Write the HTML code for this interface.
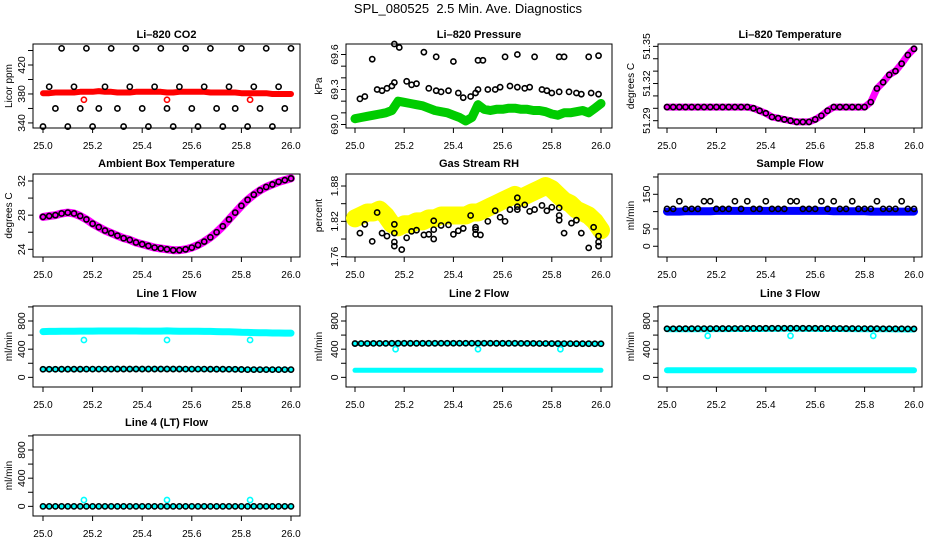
<!DOCTYPE html>
<html><head><meta charset="utf-8">
<style>
html,body{margin:0;padding:0;background:#fff;}
svg{display:block;font-family:"Liberation Sans",Arial,sans-serif;}
</style></head>
<body>
<svg id="c" width="936" height="540" viewBox="0 0 936 540">
<text x="468" y="13" text-anchor="middle" font-size="13">SPL_080525&#160; 2.5 Min. Ave. Diagnostics</text>
</svg>
<script>
// ---- shared time axis (fractional day) ----
const times=[25.000,25.025,25.050,25.075,25.100,25.125,25.150,25.175,25.200,25.225,25.250,25.275,25.300,25.325,25.350,25.375,25.400,25.425,25.450,25.475,25.500,25.525,25.550,25.575,25.600,25.625,25.650,25.675,25.700,25.725,25.750,25.775,25.800,25.825,25.850,25.875,25.900,25.925,25.950,25.975,26.000];
const xTicks=[25.0,25.2,25.4,25.6,25.8,26.0];
const xTickLabels=["25.0","25.2","25.4","25.6","25.8","26.0"];
// ---- Li-820 CO2 ----
const co2Red=[381,381,382,382,382,382,383,383,383,384,383,383,382,382,382,383,383,383,383,383,382,382,383,383,383,383,383,382,382,382,382,382,381,381,381,381,381,380,380,380,380];
const co2Black=[335,390,360,443,335,390,360,443,335,360,390,443,360,335,390,443,360,335,390,443,360,335,390,443,360,335,390,443,360,335,390,360,443,335,390,360,443,335,390,360,443];
const co2RedOutT=[25.165,25.5,25.835];
const co2RedOutV=[372,372,372];
// ---- Li-820 Pressure ----
const presGreen=[69.05,69.06,69.07,69.08,69.09,69.10,69.12,69.20,69.19,69.18,69.17,69.16,69.14,69.12,69.11,69.10,69.08,69.06,69.03,69.06,69.17,69.13,69.12,69.13,69.13,69.14,69.14,69.13,69.13,69.12,69.12,69.11,69.09,69.08,69.10,69.10,69.11,69.12,69.10,69.14,69.18];
const presMidT=[25.02,25.04,25.09,25.11,25.13,25.15,25.16,25.21,25.23,25.25,25.30,25.33,25.35,25.38,25.42,25.44,25.47,25.49,25.50,25.54,25.57,25.59,25.63,25.66,25.69,25.71,25.76,25.78,25.80,25.83,25.87,25.90,25.92,25.96,25.99];
const presMidV=[69.22,69.24,69.30,69.29,69.31,69.33,69.36,69.37,69.34,69.35,69.31,69.29,69.28,69.29,69.27,69.23,69.24,69.27,69.30,69.30,69.30,69.32,69.33,69.32,69.31,69.32,69.30,69.29,69.27,69.28,69.28,69.27,69.26,69.27,69.26];
const presUpT=[25.07,25.16,25.18,25.28,25.33,25.40,25.50,25.52,25.61,25.66,25.73,25.83,25.85,25.95,25.99];
const presUpV=[69.56,69.69,69.66,69.62,69.58,69.54,69.55,69.55,69.58,69.60,69.58,69.58,69.58,69.58,69.59];
// ---- Li-820 Temperature ----
const licTemp=[51.301,51.301,51.301,51.301,51.301,51.301,51.301,51.301,51.301,51.301,51.301,51.301,51.301,51.301,51.300,51.298,51.296,51.293,51.292,51.291,51.290,51.289,51.289,51.289,51.291,51.294,51.298,51.301,51.301,51.301,51.301,51.301,51.301,51.305,51.316,51.321,51.327,51.330,51.336,51.343,51.348];
// ---- Ambient box temperature ----
const ambTemp=[27.8,27.9,28.0,28.2,28.3,28.2,27.9,27.5,27.0,26.6,26.2,25.9,25.6,25.3,25.1,24.8,24.6,24.4,24.2,24.1,24.0,23.9,23.9,24.0,24.2,24.5,24.9,25.4,26.0,26.7,27.5,28.3,29.1,29.8,30.4,30.9,31.3,31.6,31.9,32.1,32.3];
// ---- Gas stream RH ----
const rhYellow=[1.825,1.83,1.835,1.835,1.84,1.83,1.815,1.81,1.815,1.815,1.82,1.82,1.825,1.825,1.83,1.83,1.83,1.83,1.83,1.835,1.835,1.84,1.845,1.85,1.855,1.86,1.865,1.86,1.865,1.87,1.875,1.88,1.875,1.865,1.855,1.85,1.84,1.835,1.83,1.82,1.805];
const rhBlackT=[25.02,25.04,25.07,25.09,25.11,25.13,25.16,25.16,25.16,25.16,25.19,25.21,25.23,25.25,25.28,25.30,25.32,25.32,25.32,25.35,25.38,25.40,25.42,25.44,25.47,25.49,25.49,25.49,25.51,25.54,25.57,25.59,25.61,25.63,25.66,25.66,25.66,25.69,25.71,25.73,25.76,25.78,25.80,25.83,25.83,25.83,25.85,25.88,25.90,25.92,25.95,25.97,25.99,25.99,25.99];
const rhBlackV=[1.800,1.815,1.786,1.835,1.800,1.795,1.815,1.800,1.785,1.778,1.772,1.792,1.803,1.805,1.797,1.798,1.821,1.806,1.790,1.813,1.814,1.798,1.804,1.808,1.830,1.810,1.806,1.798,1.797,1.820,1.838,1.827,1.820,1.840,1.860,1.845,1.840,1.848,1.837,1.840,1.847,1.838,1.844,1.843,1.830,1.822,1.800,1.817,1.822,1.800,1.775,1.810,1.795,1.785,1.778];
// ---- Sample flow ----
const sampBlue=[100,100,100,101,101,101,101,101,102,102,102,102,102,102,102,102,102,102,102,102,102,102,102,102,102,102,102,101,101,101,101,101,101,100,100,100,100,100,100,100,100];
const sampBlack=[108,108,130,108,108,108,130,130,108,108,108,130,108,130,108,108,130,108,108,108,130,130,108,108,108,130,108,130,108,108,130,108,108,108,130,108,108,108,130,108,108];
// ---- Line flows ----
const l1Cyan=[650,652,652,655,655,655,656,657,657,658,658,658,658,658,658,658,657,657,657,656,660,656,655,655,655,654,652,652,650,648,646,644,640,638,636,634,632,630,630,628,628];
const l1Black=[115,115,115,116,116,116,116,117,117,117,117,117,118,118,118,118,118,118,118,118,118,118,118,117,117,117,117,116,116,116,115,114,112,110,110,110,110,110,110,110,110];
const l2Black=[480,481,481,482,482,482,483,483,483,483,483,483,483,483,484,484,484,484,484,484,484,484,484,483,483,483,483,482,482,482,481,481,480,480,479,479,478,478,478,477,477];
const l2Low=[100,100,100,100,100,100,100,100,100,100,100,100,100,100,100,100,100,100,100,100,100,100,100,100,100,100,100,100,100,100,100,100,100,100,100,100,100,100,100,100,100];
const l3Black=[690,690,691,691,691,692,692,692,693,693,693,694,694,695,695,695,696,696,696,697,697,697,696,696,696,695,695,694,694,693,693,692,692,691,691,690,690,689,689,688,688];
const l4Black=[0,0,0,0,0,0,0,0,0,0,0,0,0,0,0,0,0,0,0,0,0,0,0,0,0,0,0,0,0,0,0,0,0,0,0,0,0,0,0,0,0];
const outT=[25.165,25.5,25.835];
const l1Out=[530,530,530];
const l2Out=[400,400,400];
const l3Out=[590,590,590];
const l4Out=[90,90,90];

const NS="http://www.w3.org/2000/svg";
const svg=document.getElementById('c');
function mk(tag,attrs,parent){const e=document.createElementNS(NS,tag);for(const k in attrs)e.setAttribute(k,attrs[k]);(parent||svg).appendChild(e);return e;}
const cols=[{bl:33,br:300,x0:43,x1:291,yl:12},{bl:346,br:612,x0:355,x1:601,yl:322},{bl:658,br:922,x0:667,x1:914,yl:634}];
const rows=[{bt:44,bb:128,ty:38},{bt:174,bb:257,ty:167},{bt:306,bb:387,ty:297},{bt:435,bb:516,ty:426}];

function panel(name,title,ylab,ci,ri,ymin,ymax,yTicks,yLabels){
  const c=cols[ci],r=rows[ri];
  const g=mk('g',{});
  
  
  const sx=v=>c.x0+(v-25)*(c.x1-c.x0);
  const sy=v=>r.bb-(v-ymin)/(ymax-ymin)*(r.bb-r.bt);
  const t=mk('text',{x:(c.bl+c.br)/2,y:r.ty,'text-anchor':'middle','font-size':11,'font-weight':'bold'},g);t.textContent=title;
  
  
  const b=mk('rect',{x:c.bl,y:r.bt,width:c.br-c.bl,height:r.bb-r.bt,fill:'none',stroke:'#000','stroke-width':1},g);
  
  
  const xa=mk('g',{},g);
  
  
  mk('line',{x1:sx(xTicks[0]),x2:sx(xTicks[xTicks.length-1]),y1:r.bb,y2:r.bb,stroke:'#000'},xa);
  xTicks.forEach((v,i)=>{mk('line',{x1:sx(v),x2:sx(v),y1:r.bb,y2:r.bb+5,stroke:'#000'},xa);
    const tl=mk('text',{x:sx(v),y:r.bb+21,'text-anchor':'middle','font-size':10},xa);tl.textContent=xTickLabels[i];});
  const ya=mk('g',{},g);
  
  
  mk('line',{x1:c.bl,x2:c.bl,y1:sy(yTicks[0]),y2:sy(yTicks[yTicks.length-1]),stroke:'#000'},ya);
  yTicks.forEach((v,i)=>{mk('line',{x1:c.bl-5,x2:c.bl,y1:sy(v),y2:sy(v),stroke:'#000'},ya);
    if(yLabels[i]){const tl=mk('text',{x:0,y:0,'text-anchor':'middle','font-size':10.5,transform:`translate(${c.bl-8},${sy(v)}) rotate(-90)`},ya);tl.textContent=yLabels[i];}});
  const yl=mk('text',{x:0,y:0,'text-anchor':'middle','font-size':10,transform:`translate(${c.yl},${(r.bt+r.bb)/2}) rotate(-90)`},g);yl.textContent=ylab;
  
  
  return {g,sx,sy};
}
function band(p,name,xs,ys,color,w){
  const pts=xs.map((x,i)=>p.sx(x).toFixed(1)+','+p.sy(ys[i]).toFixed(1)).join(' ');
  const e=mk('polyline',{points:pts,fill:'none',stroke:color,'stroke-width':w,'stroke-linejoin':'round','stroke-linecap':'round'},p.g);
  
  
}
function pts(p,name,xs,ys,color){
  const g=mk('g',{},p.g);
  
  
  xs.forEach((x,i)=>mk('circle',{cx:p.sx(x),cy:p.sy(ys[i]),r:2.6,fill:'none',stroke:color,'stroke-width':1.6},g));
}

// Panel 1
let p=panel('co2','Li\u2013820 CO2','Licor ppm',0,0,333,449,[340,360,380,400,420,440],['340','','380','','420','']);
band(p,'co2-red-series',times,co2Red,'#ff0000',6);
pts(p,'co2-red-outliers',co2RedOutT,co2RedOutV,'#ff0000');
pts(p,'co2-black-points',times,co2Black,'#000');
// Panel 2
p=panel('pressure','Li\u2013820 Pressure','kPa',1,0,68.97,69.69,[69.0,69.1,69.2,69.3,69.4,69.5,69.6],['69.0','','','69.3','','','69.6']);
band(p,'pressure-green-series',times,presGreen,'#00cc00',9);
pts(p,'pressure-black-mid',presMidT,presMidV,'#000');
pts(p,'pressure-black-upper',presUpT,presUpV,'#000');
// Panel 3
p=panel('licor-temp','Li\u2013820 Temperature','degrees C',2,0,51.2841,51.3519,[51.29,51.30,51.31,51.32,51.33,51.34,51.35],['51.29','','','51.32','','','51.35']);
band(p,'licor-temp-magenta',times,licTemp,'#ff00ff',7);
pts(p,'licor-temp-black',times,licTemp,'#000');
// Panel 4
p=panel('ambient','Ambient Box Temperature','degrees C',0,1,23.1,32.82,[24,26,28,30,32],['24','','28','','32']);
band(p,'ambient-magenta',times,ambTemp,'#ff00ff',8);
pts(p,'ambient-black',times,ambTemp,'#000');
// Panel 5
p=panel('rh','Gas Stream RH','percent',1,1,1.7595,1.9004,[1.76,1.79,1.82,1.85,1.88],['1.76','','1.82','','1.88']);
band(p,'rh-yellow',times,rhYellow,'#ffff00',18);
pts(p,'rh-black',rhBlackT,rhBlackV,'#000');
// Panel 6
p=panel('sample-flow','Sample Flow','ml/min',2,1,-31,208.6,[0,50,100,150,200],['0','50','','150','']);
band(p,'sample-flow-blue',times,sampBlue,'#0000ff',8);
pts(p,'sample-flow-black',times,sampBlack,'#000');
// Panel 7
const fT=[0,200,400,600,800,1000],fL=['0','','400','','800',''];
p=panel('line1','Line 1 Flow','ml/min',0,2,-137,1013,fT,fL);
band(p,'line1-cyan-high',times,l1Cyan,'#00ffff',7);
band(p,'line1-cyan-low',times,l1Black,'#00ffff',5);
pts(p,'line1-cyan-outliers',outT,l1Out,'#00ffff');
pts(p,'line1-black',times,l1Black,'#000');
// Panel 8
p=panel('line2','Line 2 Flow','ml/min',1,2,-137,1013,fT,fL);
band(p,'line2-cyan-low',times,l2Low,'#00ffff',5);
band(p,'line2-cyan-high',times,l2Black,'#00ffff',5);
pts(p,'line2-cyan-outliers',outT,l2Out,'#00ffff');
pts(p,'line2-black',times,l2Black,'#000');
// Panel 9
p=panel('line3','Line 3 Flow','ml/min',2,2,-137,1013,fT,fL);
band(p,'line3-cyan-low',times,l2Low,'#00ffff',6);
band(p,'line3-cyan-high',times,l3Black.map(v=>v-8),'#00ffff',6);
pts(p,'line3-cyan-outliers',outT,l3Out,'#00ffff');
pts(p,'line3-black',times,l3Black,'#000');
// Panel 10
p=panel('line4','Line 4 (LT) Flow','ml/min',0,3,-137,1013,fT,fL);
band(p,'line4-cyan',times,l4Black,'#00ffff',4);
pts(p,'line4-cyan-outliers',outT,l4Out,'#00ffff');
pts(p,'line4-black',times,l4Black,'#000');
</script>
</body></html>
